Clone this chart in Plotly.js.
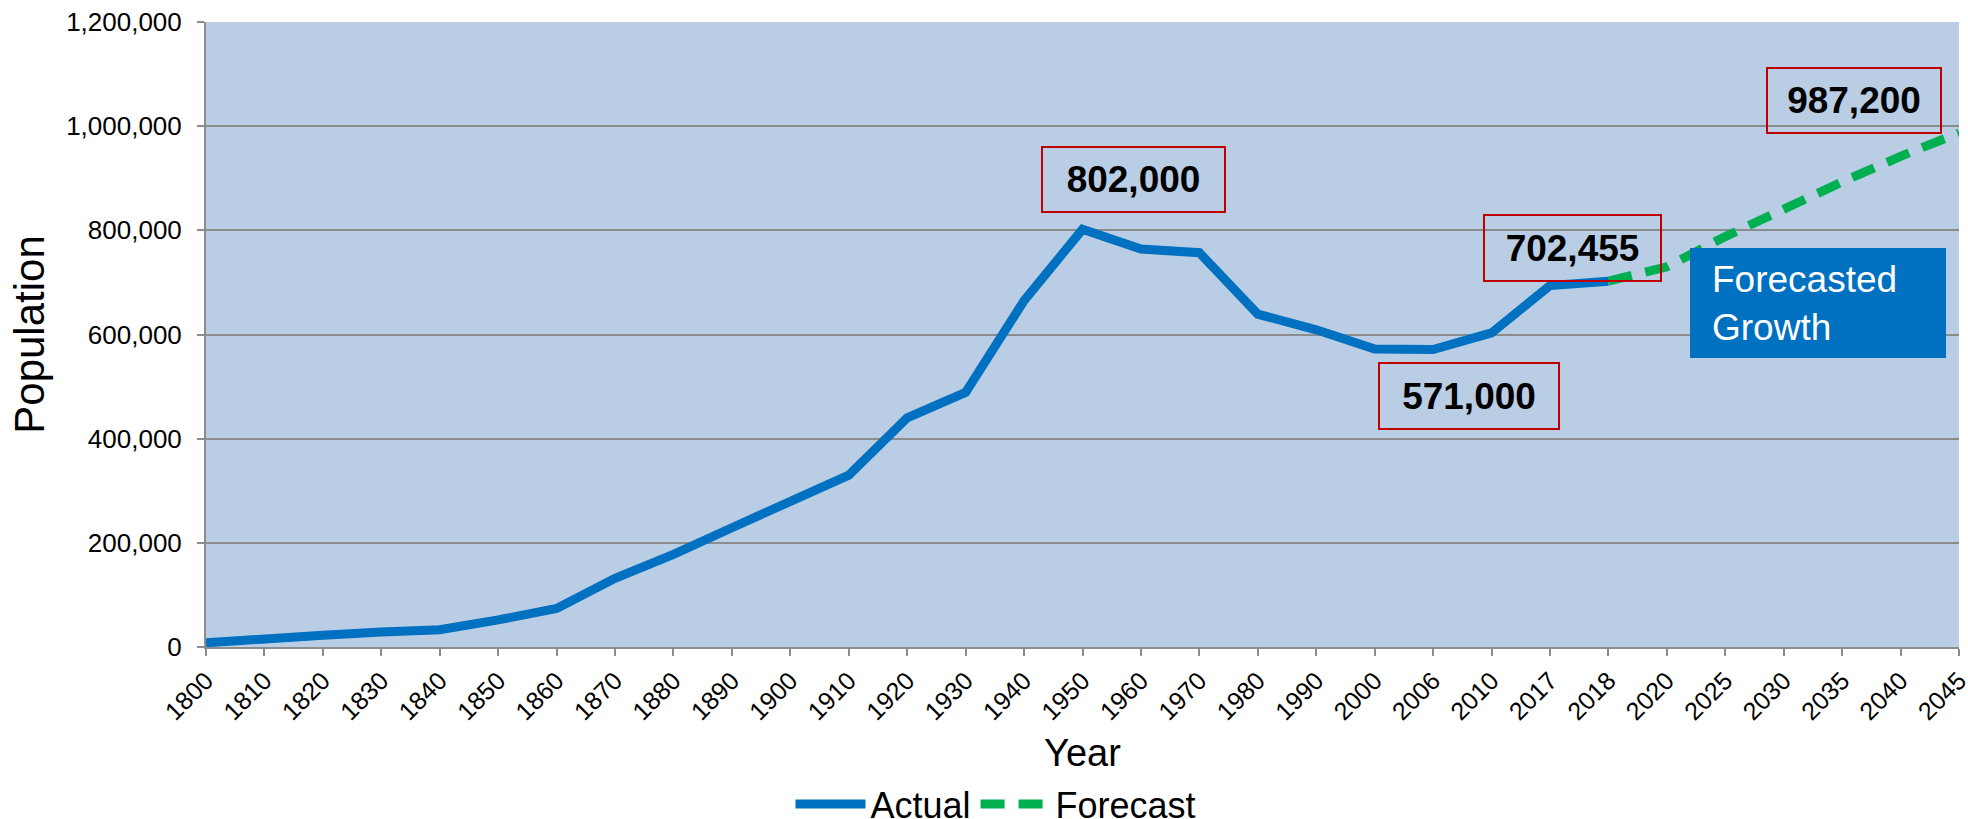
<!DOCTYPE html>
<html>
<head>
<meta charset="utf-8">
<script src="https://cdn.plot.ly/plotly-3.0.1.min.js"></script>
<style>html,body{margin:0;padding:0;background:#fff;}#chart{width:1968px;height:819px;}</style>
</head>
<body>
<div id="chart"></div>
<script>
const years = ['1800','1810','1820','1830','1840','1850','1860','1870','1880','1890','1900','1910','1920','1930','1940','1950','1960','1970','1980','1990','2000','2006','2010','2017','2018','2020','2025','2030','2035','2040','2045'];
const actualYears = ['1800','1810','1820','1830','1840','1850','1860','1870','1880','1890','1900','1910','1920','1930','1940','1950','1960','1970','1980','1990','2000','2006','2010','2017','2018'];
const actualValues = [8000,17000,22500,29000,33000,52000,74000,132000,178000,229000,279000,330000,440000,489000,665000,802000,764000,757000,639000,609000,572000,571000,603000,694000,702455];
const forecastYears = ['2018','2020','2025','2030','2035','2040','2045'];
const forecastValues = [702455,730000,788000,842000,893000,942000,987200];
const calloutLabels = ['802,000','702,455','571,000','987,200'];

const FONT = 'Liberation Sans, Arial, sans-serif';
const GRAY = '#8C8C8C';

const traces = [
  {x: actualYears, y: actualValues, type: 'scatter', mode: 'lines', name: 'Actual',
   line: {color: '#0070C0', width: 9}},
  {x: forecastYears, y: forecastValues, type: 'scatter', mode: 'lines', name: 'Forecast',
   line: {color: '#00B050', width: 9, dash: '24px,14px'}}
];

function px2x(p){ return (p-206)/1753; }
function px2y(p){ return (647-p)/625; }

function callout(text, cx, cy, w, h){
  return {xref:'paper', yref:'paper', x: px2x(cx), y: px2y(cy), xanchor:'center', yanchor:'middle',
    text: '<b>'+text+'</b>', showarrow:false, font:{family:FONT, size:37, color:'#000'},
    bordercolor:'#C00000', borderwidth:2, borderpad:0, width:w-2, height:h-2, align:'center', valign:'middle'};
}

const layout = {
  width: 1968, height: 819,
  margin: {l:206, r:9, t:22, b:172, autoexpand:false},
  paper_bgcolor: '#ffffff',
  plot_bgcolor: '#B9CDE5',
  font: {family: FONT, color: '#000'},
  showlegend: true,
  legend: {orientation:'h', xref:'container', yref:'container', x:996/1968, xanchor:'center', y:15/819, yanchor:'middle',
    font:{family:FONT, size:36, color:'#000'}, bgcolor:'rgba(0,0,0,0)', itemwidth:70},
  xaxis: {type:'category', categoryorder:'array', categoryarray: years, range:[0,30], automargin:false,
    showline:true, linecolor:GRAY, linewidth:2, ticks:'outside', ticklen:7, tickwidth:2, tickcolor:GRAY,
    tickangle:-45, tickfont:{family:FONT, size:25, color:'#000'}, showgrid:false, zeroline:false,
    title:{text:'Year', font:{family:FONT, size:38, color:'#000'}, standoff:28}},
  yaxis: {range:[0,1200000], dtick:200000, tickformat:',', showline:true, linecolor:GRAY, linewidth:2, automargin:false,
    ticks:'outside', ticklen:7, tickwidth:2, tickcolor:GRAY, ticklabelstandoff:10,
    tickfont:{family:FONT, size:26, color:'#000'}, showgrid:true, gridcolor:GRAY, gridwidth:2, zeroline:false,
    title:{text:'Population', font:{family:FONT, size:42, color:'#000'}, standoff:8}},
  shapes: [
    {type:'rect', xref:'paper', yref:'paper', x0:px2x(1690), x1:px2x(1946), y0:px2y(358), y1:px2y(248),
     fillcolor:'#0070C0', line:{width:0}, layer:'above'}
  ],
  annotations: [
    callout(calloutLabels[0], 1133.5, 179.5, 183, 65),
    callout(calloutLabels[1], 1572.5, 248, 177, 66),
    callout(calloutLabels[2], 1469, 396, 180, 66),
    callout(calloutLabels[3], 1854, 100.5, 174, 65),
    {xref:'paper', yref:'paper', x: px2x(1710), y: px2y(303), xanchor:'left', yanchor:'middle',
     text:'Forecasted<br>Growth', showarrow:false, align:'left',
     font:{family:FONT, size:37, color:'#ffffff'}}
  ]
};

Plotly.newPlot('chart', traces, layout, {displayModeBar:false, staticPlot:true});
</script>
</body>
</html>
